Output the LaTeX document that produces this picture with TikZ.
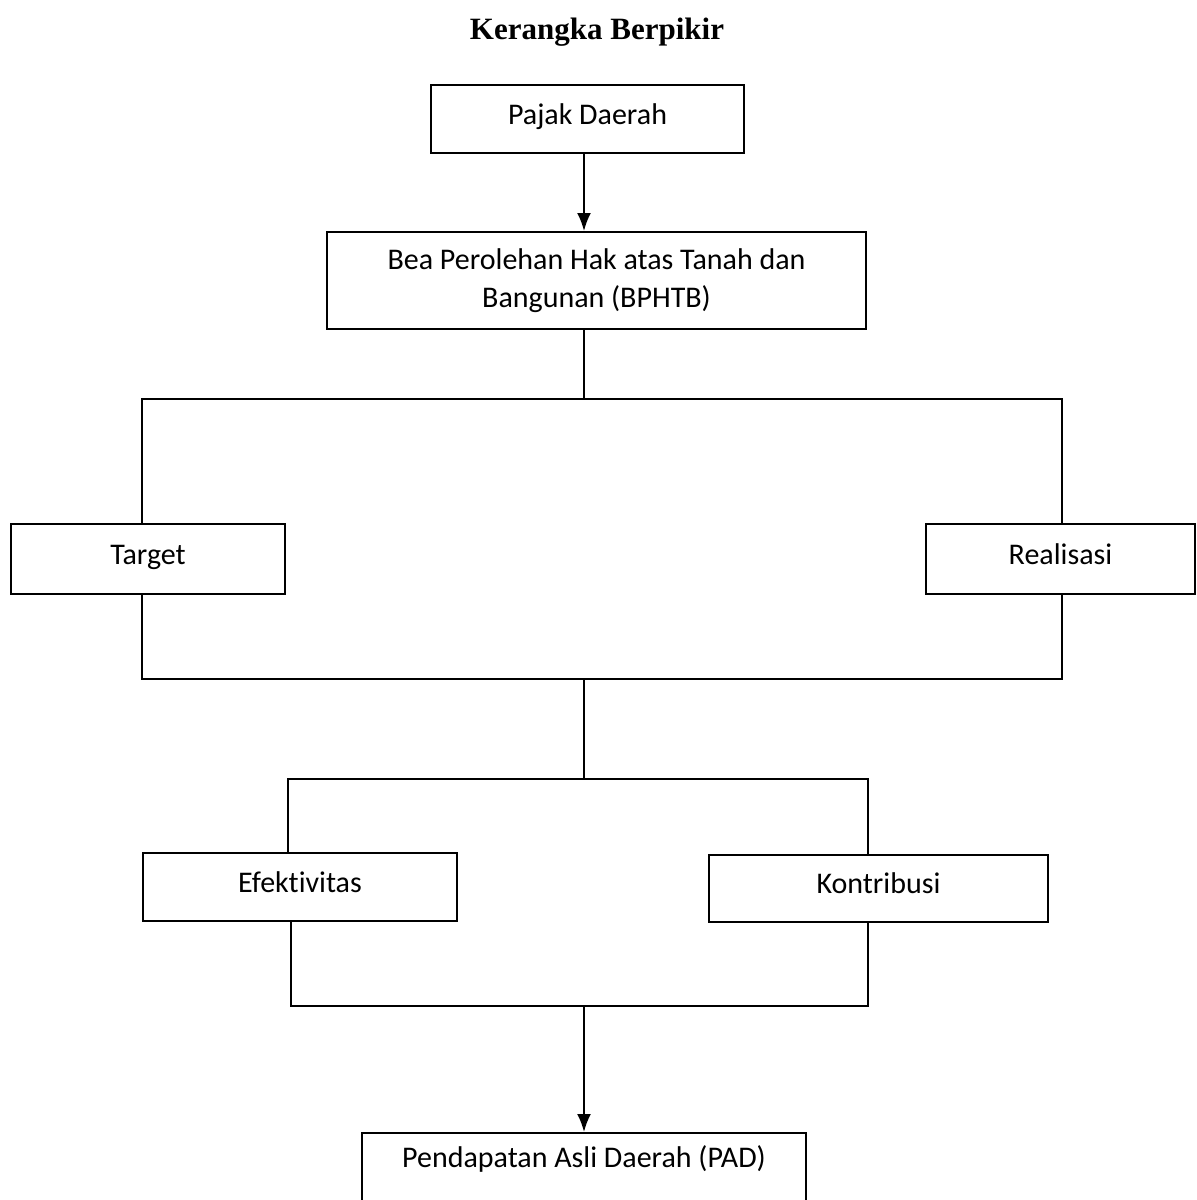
\documentclass[tikz,border=0pt]{standalone}
\usepackage{fontspec}
\setmainfont{Carlito}[Ligatures=NoCommon]
\newfontfamily\titlefont{Liberation Serif}
\usetikzlibrary{arrows.meta}

\begin{document}
\begin{tikzpicture}[x=0.5pt, y=-0.5pt, line width=1pt,
		box/.style = {shape=rectangle, draw, align=center, inner sep=0pt,
			font=\fontsize{15}{19}\selectfont},
		single/.style = {box, text height=10pt, text depth=5pt},
		arr/.style = {-{Latex[length=9pt,width=7pt]}}]
		\useasboundingbox (0,0) rectangle (1196,1200);
		\node (title) at (597,32) {\titlefont\bfseries\fontsize{15.5}{19}\selectfont Kerangka Berpikir};
		\node[single, minimum width=156.5pt, minimum height=34pt] (pajak) at (587.5,119) {Pajak Daerah};
		\node[box, minimum width=269.5pt, minimum height=48.5pt] (bphtb) at (596.5,280.5)
			{Bea Perolehan Hak atas Tanah dan\\Bangunan (BPHTB)};
		\node[single, minimum width=137pt, minimum height=35pt] (target) at (148,559) {Target};
		\node[single, minimum width=134.5pt, minimum height=35pt] (realisasi) at (1060.5,559) {Realisasi};
		\node[single, minimum width=157pt, minimum height=34pt] (efektivitas) at (300,887) {Efektivitas};
		\node[single, minimum width=169.5pt, minimum height=33.5pt] (kontribusi) at (878.5,888.5) {Kontribusi};
		\node[box, minimum width=222pt, minimum height=48.5pt, anchor=north] (pad) at (584,1132)
			{Pendapatan Asli Daerah (PAD)\\\strut};
		% junctions of the connecting lines
		\coordinate (topbus) at (584,399);
		\coordinate (tl) at (142,399);
		\coordinate (tr) at (1062,399);
		\coordinate (ml) at (142,679);
		\coordinate (mr) at (1062,679);
		\coordinate (midbus) at (584,679);
		\coordinate (lowbus) at (584,779);
		\coordinate (ll) at (288,779);
		\coordinate (lr) at (868,779);
		\coordinate (bl) at (291,1006);
		\coordinate (br) at (868,1006);
		\coordinate (botbus) at (584,1006);
		\draw[arr] (pajak.south -| topbus) -- (bphtb.north -| topbus);
		\draw (bphtb.south -| topbus) -- (topbus);
		\draw (tl |- target.north) -- (tl) -- (tr) -- (tr |- realisasi.north);
		\draw (target.south -| ml) -- (ml) -- (mr) -- (realisasi.south -| mr);
		\draw (midbus) -- (lowbus);
		\draw (ll |- efektivitas.north) -- (ll) -- (lr) -- (lr |- kontribusi.north);
		\draw (efektivitas.south -| bl) -- (bl) -- (br) -- (kontribusi.south -| br);
		\draw[arr] (botbus) -- (pad.north -| botbus);
	\end{tikzpicture}
\end{document}
